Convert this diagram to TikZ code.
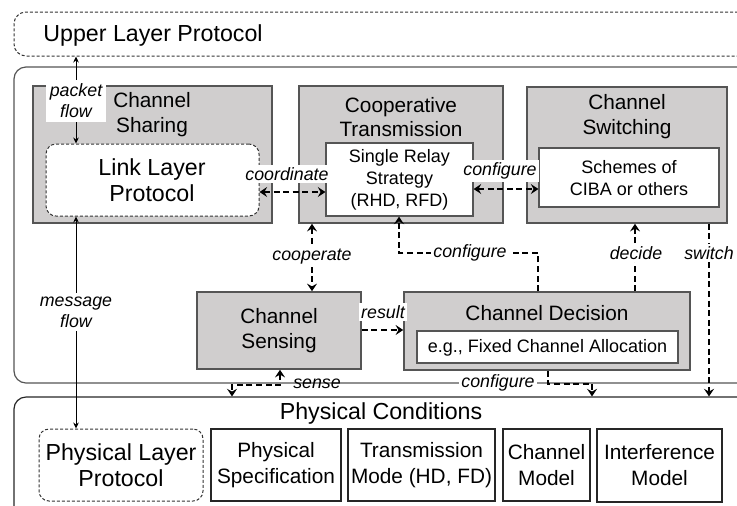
\documentclass[tikz,border=0pt]{standalone}
\usepackage{fontspec}
\setmainfont{Liberation Sans}
\usetikzlibrary{arrows.meta,fit,calc}
\definecolor{gfill}{RGB}{208,206,206}
\definecolor{gline}{RGB}{85,85,85}
\begin{document}
\begin{tikzpicture}[x=0.5pt,y=-0.5pt,
 >={Stealth[length=3.8pt,width=5pt,inset=1.4pt]},
 big/.style={font=\fontsize{11.6}{13}\selectfont, align=center, inner sep=0},
 mid/.style={font=\fontsize{10.4}{12.4}\selectfont, align=center, inner sep=0},
 sml/.style={font=\fontsize{9}{11}\selectfont, align=center, inner sep=0},
 lab/.style={font=\fontsize{8.9}{10.5}\selectfont\itshape, align=center, fill=white, inner sep=1.2pt},
 labnf/.style={font=\fontsize{8.9}{10.5}\selectfont\itshape, align=center, inner sep=1pt},
 greybox/.style={draw=gline, line width=0.8pt, fill=gfill, inner sep=0, rectangle},
 whitebox/.style={draw=gline, line width=0.6pt, fill=white, inner sep=0, rectangle},
 dbox/.style={draw=black!80, line width=0.5pt, dash pattern=on 1.5pt off 1pt, rounded corners=5pt, fill=white, inner sep=0},
 plainbox/.style={draw=black!85, line width=0.6pt, fill=white, inner sep=0, rectangle},
 thinarr/.style={line width=0.45pt, {Stealth[length=3pt,width=2.8pt]}-{Stealth[length=3pt,width=2.8pt]}},
 dasharr/.style={line width=1.15pt, dash pattern=on 3pt off 1.8pt}
]
\useasboundingbox (0,0) rectangle (737,505);
\clip (0,0) rectangle (737,505);

% outer layers
\node[dbox, rounded corners=6pt, fit={(14,12) (780,56)}] (upper) {};
\node[big, anchor=west] (uptxt) at (43,35) {Upper Layer Protocol};
\node[draw=gline, line width=0.6pt, rounded corners=6pt, inner sep=0, fit={(14,67) (780,383)}] (middle) {};
\node[draw=black!85, line width=0.6pt, rounded corners=6pt, inner sep=0, fit={(14,397) (780,540)}] (phys) {};
\node[big] (phystxt) at (381,413) {Physical Conditions};

% channel sharing
\node[greybox, fit={(33,86) (272,223)}] (cshare) {};
\node[mid] (cshtxt) at (152,115) {Channel\\Sharing};
\node[dbox, fit={(46,144) (259,216)}] (link) {};
\node[big] (linktxt) at (152,180) {Link Layer\\Protocol};

% cooperative transmission
\node[greybox, fit={(299,86) (503,223)}] (coop) {};
\node[mid] (cooptxt) at (401,117) {Cooperative\\Transmission};
\node[whitebox, fit={(326,143) (473,216)}] (relay) {};
\node[sml] (relaytxt) at (399.5,180) {Single Relay\\Strategy\\(RHD, RFD)};

% channel switching
\node[greybox, fit={(527,87) (727,223)}] (swbox) {};
\node[mid] (swtxt) at (627,117) {Channel\\Switching};
\node[whitebox, fit={(539,148) (719,207)}] (schemes) {};
\node[sml] (schtxt) at (629,178) {Schemes of\\CIBA or others};

% channel sensing
\node[greybox, fit={(197,292) (361,369)}] (sensing) {};
\node[mid] (sentxt) at (279,331) {Channel\\Sensing};

% channel decision
\node[greybox, fit={(404,292) (690,370)}] (decision) {};
\node[mid] (dectxt) at (547,313) {Channel Decision};
\node[whitebox, fit={(417,331) (678,363)}] (alloc) {};
\node[sml] (alloctxt) at (547.5,347.5) {e.g., Fixed Channel Allocation};

% physical boxes
\node[dbox, fit={(39,429) (203,501)}] (phl) {};
\node[big] (phltxt) at (121,465) {Physical Layer\\Protocol};
\node[plainbox, fit={(211,429) (341,501)}] (pspec) {};
\node[mid, font=\fontsize{10.4}{12.8}\selectfont] (pspectxt) at (276,465) {Physical\\Specification};
\node[plainbox, fit={(348,429) (495,501)}] (tmode) {};
\node[mid, font=\fontsize{10.4}{12.8}\selectfont] (tmodetxt) at (421.5,465) {Transmission\\Mode (HD, FD)};
\node[plainbox, fit={(503,429) (590,501)}] (cmodel) {};
\node[mid, font=\fontsize{10.4}{12.8}\selectfont] (cmodeltxt) at (546.5,465) {Channel\\Model};
\node[plainbox, fit={(597,429) (722,502)}] (imodel) {};
\node[mid, font=\fontsize{10.4}{12.8}\selectfont] (imodeltxt) at (659.5,465) {Interference\\Model};

% helper coordinates
\coordinate (c76) at (76,0);
\coordinate (c232) at (232,0);
\coordinate (c280) at (280,0);
\coordinate (c312) at (312,0);
\coordinate (c399) at (399,0);
\coordinate (c538) at (538,0);
\coordinate (c548) at (548,0);
\coordinate (c592) at (592,0);
\coordinate (c635) at (635,0);
\coordinate (c709) at (709,0);
\coordinate (r189) at (0,189);
\coordinate (r192) at (0,192);
\coordinate (r253) at (0,253);
\coordinate (r330) at (0,330);
\coordinate (r384) at (0,384);
\coordinate (r385) at (0,385);

% solid flows
\draw[thinarr] (c76 |- upper.south) -- (c76 |- link.north);
\node[lab, inner sep=2pt] (pflow) at (76,101) {packet\\flow};
\draw[thinarr] (c76 |- link.south) -- (c76 |- phl.north);
\node[lab, inner sep=2pt] (mflow) at (76,312) {message\\flow};

% dashed connectors
\draw[dasharr,<->] (link.east |- r192) -- (relay.west |- r192);
\node[lab] (coordl) at (287,174) {coordinate};
\draw[dasharr,<->] (relay.east |- r189) -- (schemes.west |- r189);
\node[lab] (conf1) at (500,171) {configure};
\draw[dasharr,<->] (c312 |- coop.south) -- (c312 |- sensing.north);
\node[lab] (coopl) at (312,257) {cooperate};
\draw[dasharr,->] (sensing.east |- r330) -- (decision.west |- r330);
\node[lab] (resl) at (383,312) {result};
\draw[dasharr,->] (c538 |- decision.north) -- (c538 |- r253) -- (c399 |- r253) -- (c399 |- relay.south);
\node[lab] (conf2) at (470,253) {configure};
\draw[dasharr,->] (c635 |- decision.north) -- (c635 |- swbox.south);
\node[lab] (decl) at (636,253) {decide};
\draw[dasharr,->] (c709 |- swbox.south) -- (c709 |- phys.north);
\node[lab] (swl) at (709,253) {switch};
\draw[dasharr,<->] (c280 |- sensing.south) -- (c280 |- r385) -- (c232 |- r385) -- (c232 |- phys.north);
\node[labnf] (sensel) at (317,384) {sense};
\draw[dasharr,->] (c548 |- decision.south) -- (c548 |- r384) -- (c592 |- r384) -- (c592 |- phys.north);
\node[lab] (conf3) at (498,383) {configure};
\end{tikzpicture}
\end{document}
